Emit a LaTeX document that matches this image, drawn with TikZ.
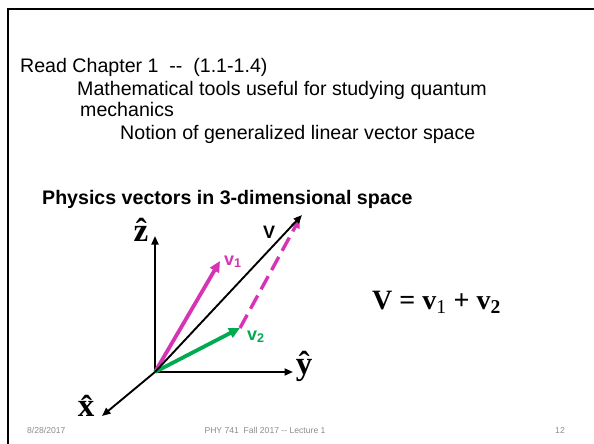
\documentclass[tikz,border=0pt]{standalone}
\usepackage{fontspec}
\setmainfont{Liberation Sans}
\newfontfamily\timesf{Liberation Serif}
\usetikzlibrary{arrows.meta}
\definecolor{mag}{RGB}{214,52,180}
\definecolor{grn}{RGB}{0,170,80}
\definecolor{footgray}{RGB}{140,140,140}
\begin{document}
\begin{tikzpicture}[x=1pt,y=-1pt,
  txt/.style={inner sep=0pt, anchor=base west, font=\fontsize{19.6}{22}\selectfont},
  ttl/.style={inner sep=0pt, anchor=base west, font=\fontsize{19.6}{22}\selectfont\bfseries},
  axlab/.style={inner sep=0pt, font=\fontsize{33}{36}\selectfont\timesf\bfseries},
  veclab/.style={inner sep=0pt, anchor=base west, font=\fontsize{18}{20}\selectfont\bfseries},
  footer/.style={inner sep=0pt, anchor=base, text=footgray, font=\fontsize{8.6}{10}\selectfont},
  axis/.style={line width=1.9pt, -{Triangle[length=8.5pt,width=7pt]}},
  fat/.style={line width=3.8pt, -{Triangle[length=11pt,width=10pt]}},
  dsh/.style={line width=3.4pt, mag, dash pattern=on 15pt off 7pt, -{Triangle[length=10pt,width=9pt]}}
]
\useasboundingbox (0,0) rectangle (594,444);
\fill[white] (0,0) rectangle (594,444);
\draw[line width=2pt] (8,445) -- (8,9) -- (595,9);

\node[txt] (l1) at (20,73) {Read Chapter 1~~-{}-~~(1.1-1.4)};
\node[txt] (l2) at (77,95) {Mathematical tools useful for studying quantum};
\node[txt] (l3) at (80,116) {mechanics};
\node[txt] (l4) at (120,139) {Notion of generalized linear vector space};
\node[ttl] (title) at (42,204) {Physics vectors in 3-dimensional space};

\coordinate (O) at (155,372);
\coordinate (zt) at (155,236);
\coordinate (yt) at (293,372);
\coordinate (xt) at (102,416);
\coordinate (Vt) at (302,215);
\coordinate (v1t) at (220,261);
\coordinate (v2t) at (240,328);
\coordinate (dt) at (300,218);

\draw[axis] (O) -- (zt);
\draw[axis] (O) -- (yt);
\draw[axis] (O) -- (xt);
\draw[fat, mag] (O) -- (v1t);
\draw[fat, grn] (O) -- (v2t);
\draw[dsh] (v2t) -- (dt);
\draw[axis] (O) -- (Vt);

\node[axlab] (zl) at (141,230) {\^{z}};
\node[axlab] (yl) at (304,366) {\^{y}};
\node[axlab] (xl) at (86,406) {\^{x}};

\node[veclab] (Vl) at (263,238) {V};
\node[veclab, text=mag] (v1l) at (224,265) {v\textsubscript{1}};
\node[veclab, text=grn] (v2l) at (247,340) {v\textsubscript{2}};

\node[inner sep=0pt, anchor=base west, font=\fontsize{28}{30}\selectfont\timesf\bfseries] (eq) at (372,309)
  {V = v\textsubscript{\mdseries 1} + v\textsubscript{2}};

\node[footer, anchor=base west] (f1) at (27,433) {8/28/2017};
\node[footer] (f2) at (265,433) {PHY 741~~Fall 2017 -{}- Lecture 1};
\node[footer, anchor=base east] (f3) at (565,433) {12};
\end{tikzpicture}
\end{document}
